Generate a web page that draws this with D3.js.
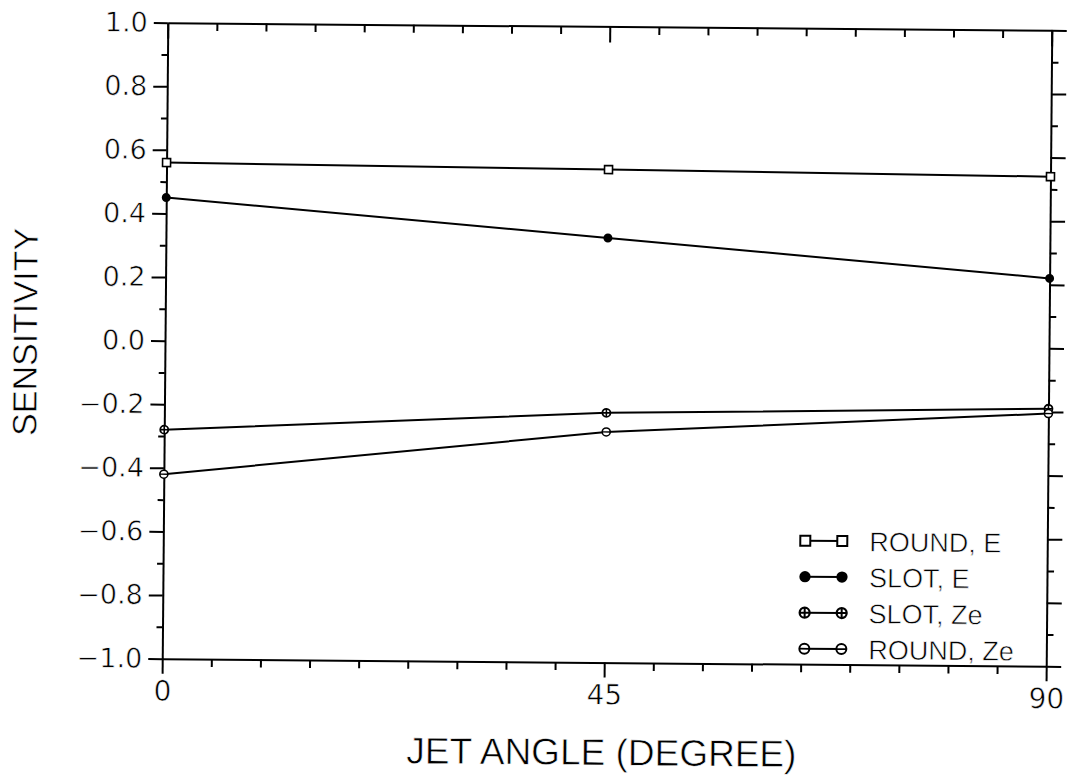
<!DOCTYPE html>
<html><head><meta charset="utf-8">
<script src="https://cdn.jsdelivr.net/npm/d3@7"></script>
<style>body{margin:0;background:#fff}svg{display:block}</style>
</head><body>
<svg id="c" width="1076" height="780"></svg>
<script>
const angles = [0, 45, 90];
const roundE = [0.56, 0.55, 0.54];
const slotE = [0.45, 0.335, 0.22];
const slotZe = [-0.28, -0.215, -0.19];
const roundZe = [-0.42, -0.275, -0.205];
const seriesNames = ["ROUND, E", "SLOT, E", "SLOT, Ze", "ROUND, Ze"];
const seriesMarkers = ["square", "filled", "cross", "bar"];
const yTicks = [1.0, 0.8, 0.6, 0.4, 0.2, 0.0, -0.2, -0.4, -0.6, -0.8, -1.0];
const xTicks = [0, 45, 90];
const xTitle = "JET ANGLE (DEGREE)";
const yTitle = "SENSITIVITY";

const series = [roundE, slotE, slotZe, roundZe].map((vals, i) => ({
  name: seriesNames[i], marker: seriesMarkers[i],
  pts: vals.map((v, j) => ({x: angles[j], y: v}))
}));

const svg = d3.select("#c");
const L = 165, R = 1049, T = 26.5, B = 662.5;
const x = d3.scaleLinear().domain([0, 90]).range([L, R]);
const y = d3.scaleLinear().domain([-1, 1]).range([B, T]);

const g = svg.append("g").attr("transform", "rotate(0.5 607 344.5)");
const ink = "#000";
const numFont = "'DejaVu Sans', sans-serif";
const txtFont = "'Liberation Sans', Arial, sans-serif";
const thin = s => s.attr("stroke", "#fff").attr("stroke-width", 0.6).attr("paint-order", "fill");

const fmt = v => (v < 0 ? "\u2212" : "") + Math.abs(v).toFixed(1);
g.append("g").attr("transform", `translate(${L},0)`)
  .call(d3.axisLeft(y).tickValues(yTicks).tickFormat(fmt).tickSizeInner(14).tickSizeOuter(0).tickPadding(6))
  .call(s => { s.select(".domain").attr("stroke-width", 2); s.selectAll("line").attr("stroke-width", 2);
    s.selectAll("text").attr("font-family", numFont).attr("font-size", 27).attr("fill", ink).call(thin); })
  .call(s => s.selectAll("path,line").attr("stroke", ink));
g.append("g").attr("transform", `translate(${L},0)`)
  .call(d3.axisLeft(y).tickValues(d3.range(-9, 10, 2).map(d => d / 10)).tickFormat("").tickSizeInner(6).tickSizeOuter(0))
  .call(s => { s.select(".domain").remove(); s.selectAll("line").attr("stroke-width", 2).attr("stroke", ink); });
g.append("g").attr("transform", `translate(${R},0)`)
  .call(d3.axisLeft(y).tickValues(yTicks).tickFormat("").tickSizeInner(-15).tickSizeOuter(0))
  .call(s => { s.select(".domain").attr("stroke-width", 2).attr("stroke", ink); s.selectAll("line").attr("stroke-width", 2).attr("stroke", ink); });
g.append("g").attr("transform", `translate(${R},0)`)
  .call(d3.axisLeft(y).tickValues(d3.range(-9, 10, 2).map(d => d / 10)).tickFormat("").tickSizeInner(-7).tickSizeOuter(0))
  .call(s => { s.select(".domain").remove(); s.selectAll("line").attr("stroke-width", 2).attr("stroke", ink); });

g.append("g").attr("transform", `translate(0,${B})`)
  .call(d3.axisBottom(x).tickValues(xTicks).tickFormat(d3.format("d")).tickSizeInner(15).tickSizeOuter(0).tickPadding(7))
  .call(s => { s.select(".domain").attr("stroke-width", 2).attr("stroke", ink); s.selectAll("line").attr("stroke-width", 2).attr("stroke", ink);
    s.selectAll("text").attr("font-family", numFont).attr("font-size", 28).attr("fill", ink).call(thin); });
g.append("g").attr("transform", `translate(0,${B})`)
  .call(d3.axisBottom(x).tickValues(d3.range(5, 90, 5).filter(d => d !== 45)).tickFormat("").tickSizeInner(8).tickSizeOuter(0))
  .call(s => { s.select(".domain").remove(); s.selectAll("line").attr("stroke-width", 2).attr("stroke", ink); });
g.append("g").attr("transform", `translate(0,${T})`)
  .call(d3.axisTop(x).tickValues(xTicks).tickFormat("").tickSizeInner(-16).tickSizeOuter(0))
  .call(s => { s.select(".domain").attr("stroke-width", 2).attr("stroke", ink); s.selectAll("line").attr("stroke-width", 2).attr("stroke", ink); });
g.append("g").attr("transform", `translate(0,${T})`)
  .call(d3.axisTop(x).tickValues(d3.range(5, 90, 5).filter(d => d !== 45)).tickFormat("").tickSizeInner(-8).tickSizeOuter(0))
  .call(s => { s.select(".domain").remove(); s.selectAll("line").attr("stroke-width", 2).attr("stroke", ink); });

g.append("text").attr("x", 605).attr("y", 765).attr("text-anchor", "middle")
  .attr("font-family", txtFont).attr("font-size", 37).attr("fill", ink).call(thin).text(xTitle);
g.append("text").attr("transform", "translate(37,337) rotate(-90)").attr("text-anchor", "middle")
  .attr("font-family", txtFont).attr("font-size", 34).attr("fill", ink).call(thin).text(yTitle);

function drawMarker(sel, type, cx, cy) {
  if (type === "square") {
    sel.append("rect").attr("x", cx - 4).attr("y", cy - 4).attr("width", 8).attr("height", 8)
      .attr("fill", "#fff").attr("stroke", ink).attr("stroke-width", 1.6);
  } else if (type === "filled") {
    sel.append("circle").attr("cx", cx).attr("cy", cy).attr("r", 4.5).attr("fill", ink);
  } else if (type === "cross") {
    sel.append("circle").attr("cx", cx).attr("cy", cy).attr("r", 4).attr("fill", "#fff").attr("stroke", ink).attr("stroke-width", 1.8);
    sel.append("line").attr("x1", cx).attr("x2", cx).attr("y1", cy - 4).attr("y2", cy + 4).attr("stroke", ink).attr("stroke-width", 1.6);
    sel.append("line").attr("x1", cx - 4).attr("x2", cx + 4).attr("y1", cy).attr("y2", cy).attr("stroke", ink).attr("stroke-width", 1.6);
  } else {
    sel.append("circle").attr("cx", cx).attr("cy", cy).attr("r", 4).attr("fill", "#fff").attr("stroke", ink).attr("stroke-width", 1.6);
    sel.append("line").attr("x1", cx - 4).attr("x2", cx + 4).attr("y1", cy).attr("y2", cy).attr("stroke", ink).attr("stroke-width", 1.4);
  }
}
const line = d3.line().x(d => x(d.x)).y(d => y(d.y));
series.forEach(s => {
  g.append("path").datum(s.pts).attr("d", line).attr("fill", "none").attr("stroke", ink).attr("stroke-width", 2);
  const mg = g.append("g");
  s.pts.forEach(p => drawMarker(mg, s.marker, x(p.x), y(p.y)));
});

const legY = [539, 575, 611, 647];
series.forEach((s, i) => {
  const lg = g.append("g");
  lg.append("line").attr("x1", 807).attr("x2", 844).attr("y1", legY[i]).attr("y2", legY[i]).attr("stroke", ink).attr("stroke-width", 2);
  const big = 1.25;
  drawMarker(lg.append("g").attr("transform", `translate(807,${legY[i]}) scale(${big})`), s.marker, 0, 0);
  drawMarker(lg.append("g").attr("transform", `translate(844,${legY[i]}) scale(${big})`), s.marker, 0, 0);
  lg.append("text").attr("x", 871).attr("y", legY[i] + 10).attr("font-family", txtFont).attr("font-size", 27)
    .attr("fill", ink).call(thin).text(s.name);
});
</script>
</body></html>
